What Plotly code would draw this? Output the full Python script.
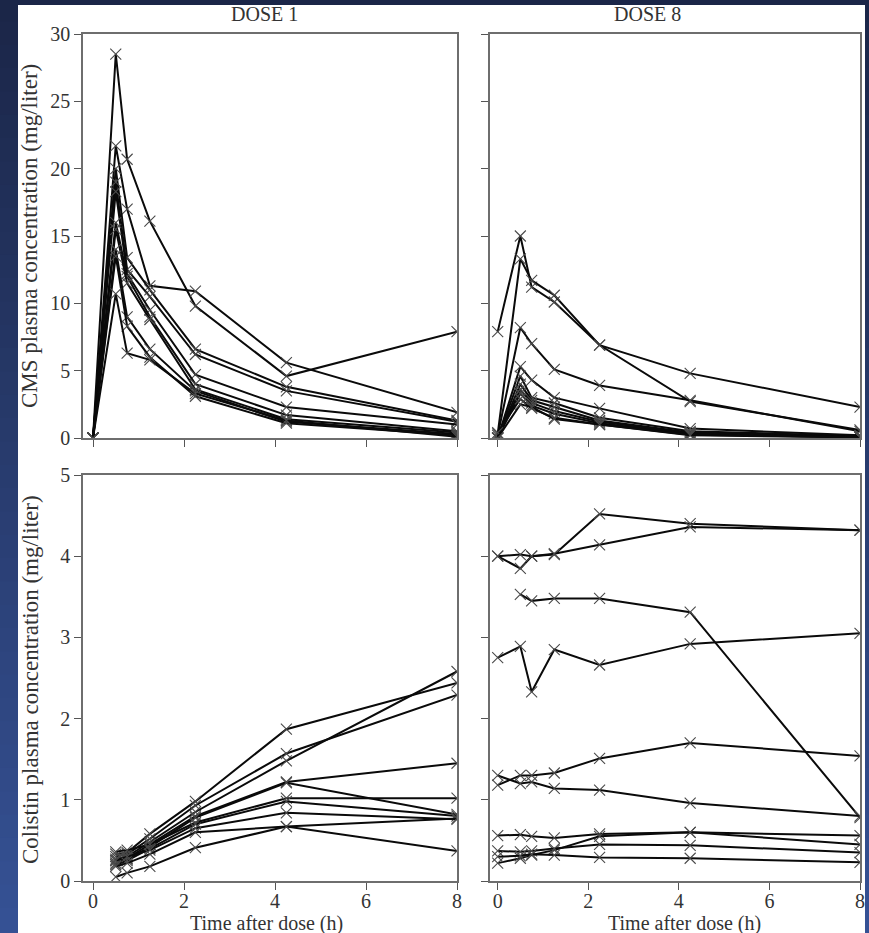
import plotly.graph_objects as go

W, H = 869, 933

# ---------------- data ----------------
times = [0, 0.5, 0.75, 1.25, 2.25, 4.25, 8]
times_col1 = [0.5, 0.75, 1.25, 2.25, 4.25, 8]

cms_dose1 = [
    [0, 28.5, 20.7, 16.1, 9.8, 4.6, 7.9],
    [0, 21.7, 17.0, 11.3, 10.9, 5.6, 1.9],
    [0, 20.0, 13.4, 11.0, 6.6, 3.8, 1.3],
    [0, 19.0, 12.5, 10.5, 6.2, 3.5, 1.2],
    [0, 18.3, 12.2, 9.5, 4.7, 2.3, 1.0],
    [0, 16.0, 12.0, 9.0, 4.0, 1.7, 0.5],
    [0, 15.5, 11.5, 8.8, 3.6, 1.4, 0.4],
    [0, 14.0, 9.0, 6.6, 3.5, 1.2, 0.3],
    [0, 13.5, 8.3, 6.0, 3.1, 1.1, 0.2],
    [0, 10.7, 6.3, 5.8, 3.3, 1.3, 0.1],
]

cms_dose8 = [
    [7.9, 15.0, 11.2, 10.1, 6.9, 2.7, 0.6],
    [0.3, 13.3, 11.7, 10.6, 6.9, 4.8, 2.3],
    [0.2, 8.2, 7.0, 5.1, 3.9, 2.8, 0.5],
    [0, 5.3, 4.3, 3.0, 2.2, 0.7, 0.2],
    [0, 4.6, 3.0, 2.6, 1.5, 0.5, 0.15],
    [0, 4.0, 2.8, 2.3, 1.3, 0.4, 0.1],
    [0, 3.6, 2.6, 2.0, 1.2, 0.35, 0.1],
    [0, 3.3, 2.4, 1.8, 1.1, 0.3, 0.05],
    [0.4, 2.9, 2.2, 1.5, 1.0, 0.25, 0.05],
    [0, 2.5, 2.3, 1.4, 1.0, 0.2, 0.05],
]

colistin_dose1 = [
    [0.33, 0.35, 0.58, 0.98, 1.87, 2.44],
    [0.30, 0.33, 0.52, 0.93, 1.57, 2.29],
    [0.27, 0.30, 0.48, 0.85, 1.48, 2.58],
    [0.25, 0.28, 0.45, 0.80, 1.22, 1.45],
    [0.22, 0.27, 0.42, 0.78, 1.21, 0.82],
    [0.36, 0.38, 0.45, 0.72, 1.02, 1.02],
    [0.20, 0.25, 0.40, 0.70, 0.98, 0.80],
    [0.25, 0.30, 0.38, 0.65, 0.84, 0.76],
    [0.18, 0.22, 0.33, 0.60, 0.67, 0.77],
    [0.05, 0.10, 0.18, 0.41, 0.67, 0.37],
]

colistin_dose8 = [
    [4.00, 4.02, 4.00, 4.02, 4.52, 4.40, 4.32],
    [4.00, 3.85, 4.00, 4.03, 4.14, 4.36, 4.32],
    [None, 3.53, 3.45, 3.48, 3.48, 3.31, 0.78],
    [2.75, 2.89, 2.33, 2.85, 2.66, 2.92, 3.05],
    [1.18, 1.30, 1.30, 1.33, 1.51, 1.70, 1.54],
    [1.30, 1.20, 1.22, 1.14, 1.12, 0.96, 0.80],
    [0.56, 0.57, 0.55, 0.53, 0.58, 0.60, 0.56],
    [0.22, 0.28, 0.32, 0.38, 0.55, 0.60, 0.45],
    [0.37, 0.36, 0.37, 0.40, 0.45, 0.44, 0.35],
    [0.30, 0.31, 0.33, 0.32, 0.29, 0.28, 0.23],
]

x_ticks = [0, 2, 4, 6, 8]
cms_ticks = [0, 5, 10, 15, 20, 25, 30]
col_ticks = [0, 1, 2, 3, 4, 5]

panel_titles = ["DOSE 1", "DOSE 8"]
x_title = "Time after dose (h)"
y_title_cms = "CMS plasma concentration (mg/liter)"
y_title_col = "Colistin plasma concentration (mg/liter)"

# ---------------- figure ----------------
FONT = "Liberation Serif"
fig = go.Figure()

def add_series(xs, series, xa, ya):
    for s in series:
        fig.add_trace(go.Scatter(
            x=xs, y=s, xaxis=xa, yaxis=ya, mode="lines+markers",
            line=dict(color="#0a0a0a", width=2),
            marker=dict(symbol="x-thin", size=11,
                        line=dict(width=1.1, color="#4a4a4a"), color="#4a4a4a"),
            connectgaps=False, showlegend=False, hoverinfo="skip"))

add_series(times, cms_dose1, "x", "y")
add_series(times, cms_dose8, "x2", "y2")
add_series(times_col1, colistin_dose1, "x3", "y3")
add_series(times, colistin_dose8, "x4", "y4")

def px(v):
    return v / W

def py(v):
    return (H - v) / H

left_dom = [px(83), px(457)]
right_dom = [px(490), px(860)]
top_dom = [py(438), py(34)]
bot_dom = [py(881), py(475)]

axis_common = dict(showline=True, mirror=True, linecolor="#6e6e6e", linewidth=1.6,
                   ticks="outside", ticklen=7, tickwidth=1.3, tickcolor="#555",
                   showgrid=False, zeroline=False, fixedrange=True, automargin=False,
                   tickfont=dict(family=FONT, size=20, color="#333"))

fig.update_layout(
    width=W, height=H, autosize=False,
    margin=dict(l=0, r=0, t=0, b=0, pad=0, autoexpand=False),
    paper_bgcolor="#1f2c52", plot_bgcolor="white",
    xaxis=dict(domain=left_dom, range=[-0.22, 8], anchor="y", tickvals=x_ticks,
               showticklabels=False, **axis_common),
    yaxis=dict(domain=top_dom, range=[0, 30], anchor="x", tickvals=cms_ticks,
               **axis_common),
    xaxis2=dict(domain=right_dom, range=[-0.17, 8], anchor="y2", tickvals=x_ticks,
                showticklabels=False, **axis_common),
    yaxis2=dict(domain=top_dom, range=[0, 30], anchor="x2", tickvals=cms_ticks,
                showticklabels=False, **axis_common),
    xaxis3=dict(domain=left_dom, range=[-0.22, 8], anchor="y3", tickvals=x_ticks,
                ticklabelstandoff=-6, **axis_common),
    yaxis3=dict(domain=bot_dom, range=[0, 5], anchor="x3", tickvals=col_ticks,
                **axis_common),
    xaxis4=dict(domain=right_dom, range=[-0.17, 8], anchor="y4", tickvals=x_ticks,
                ticklabelstandoff=-6, **axis_common),
    yaxis4=dict(domain=bot_dom, range=[0, 5], anchor="x4", tickvals=col_ticks,
                showticklabels=False, **axis_common),
)

# background: vertical gradient, white page on top
shapes = []
N = 40
top_c = (27, 38, 72)
bot_c = (53, 81, 148)
for i in range(N):
    f = i / (N - 1)
    c = tuple(int(round(top_c[k] + (bot_c[k] - top_c[k]) * f)) for k in range(3))
    shapes.append(dict(type="rect", xref="paper", yref="paper", layer="below",
                       x0=0, x1=1, y0=1 - (i + 1) / N, y1=min(1.0, 1 - i / N + 0.002),
                       line=dict(width=0), fillcolor="rgb(%d,%d,%d)" % c))
shapes.append(dict(type="rect", xref="paper", yref="paper", layer="below",
                   x0=px(18), x1=px(865), y0=0, y1=py(5),
                   line=dict(width=0), fillcolor="white"))
fig.update_layout(shapes=shapes)

ann = []
tfont = dict(family=FONT, size=20, color="#333")
ann.append(dict(text=panel_titles[0], x=px(264), y=py(14), xref="paper", yref="paper",
                showarrow=False, font=tfont, xanchor="center", yanchor="middle"))
ann.append(dict(text=panel_titles[1], x=px(647), y=py(14), xref="paper", yref="paper",
                showarrow=False, font=tfont, xanchor="center", yanchor="middle"))
ann.append(dict(text=x_title, x=px(266), y=py(923), xref="paper", yref="paper",
                showarrow=False, font=tfont, xanchor="center", yanchor="middle"))
ann.append(dict(text=x_title, x=px(684), y=py(923), xref="paper", yref="paper",
                showarrow=False, font=tfont, xanchor="center", yanchor="middle"))
yfont = dict(family=FONT, size=23, color="#333")
ann.append(dict(text=y_title_cms, x=px(30), y=py(236), xref="paper", yref="paper",
                showarrow=False, font=yfont, textangle=-90,
                xanchor="center", yanchor="middle"))
ann.append(dict(text=y_title_col, x=px(30), y=py(680), xref="paper", yref="paper",
                showarrow=False, font=yfont, textangle=-90,
                xanchor="center", yanchor="middle"))
fig.update_layout(annotations=ann)

fig.write_html(
    "out.html",
    config={"displayModeBar": False, "responsive": False},
    post_script="document.body.style.margin='0';document.body.style.padding='0';"
                "document.body.style.overflow='hidden';"
                "document.documentElement.style.background='white';")
